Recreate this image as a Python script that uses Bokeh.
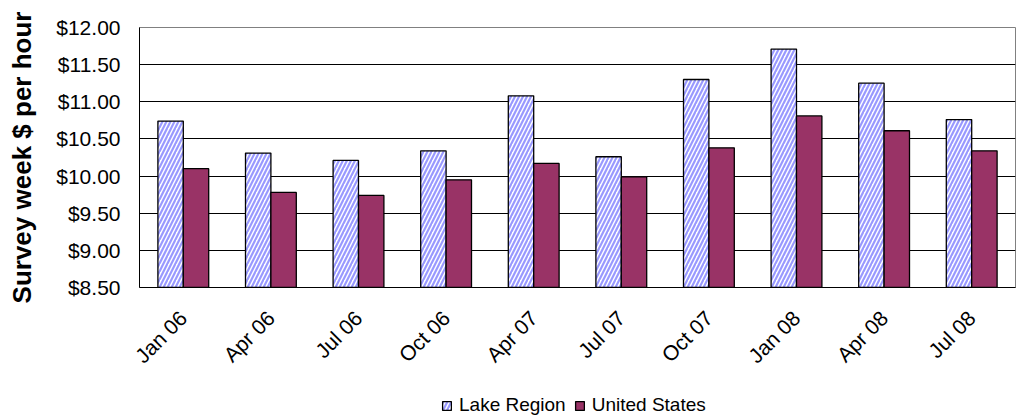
import math
from bokeh.plotting import figure
from bokeh.layouts import column
from bokeh.models import (FactorRange, Range1d, FixedTicker, NumeralTickFormatter,
                          Legend, LegendItem, ColumnDataSource)
from bokeh.transform import dodge
from bokeh.embed import file_html
from bokeh.resources import INLINE

periods = ["Jan 06", "Apr 06", "Jul 06", "Oct 06", "Apr 07",
           "Jul 07", "Oct 07", "Jan 08", "Apr 08", "Jul 08"]
lake_region = [10.74, 10.31, 10.21, 10.34, 11.08, 10.26, 11.30, 11.71, 11.25, 10.76]
united_states = [10.10, 9.78, 9.74, 9.95, 10.17, 9.99, 10.38, 10.81, 10.61, 10.34]
y_ticks = [8.5, 9.0, 9.5, 10.0, 10.5, 11.0, 11.5, 12.0]
series_names = ["Lake Region", "United States"]
y_label = "Survey week $ per hour"

FONT = "Liberation Sans"
y_min, y_max = y_ticks[0], y_ticks[-1]

LAKE_STYLE = dict(fill_color="white", hatch_pattern="/", hatch_color="#9999FF",
                  hatch_weight=2.2, hatch_scale=8, line_color="black", line_width=1.3)
US_STYLE = dict(fill_color="#993366", line_color="black", line_width=1.3)

src = ColumnDataSource(data=dict(period=periods, lake=lake_region, us=united_states,
                                 base=[y_min] * len(periods)))

W = 1016
p = figure(x_range=FactorRange(*periods, range_padding=0),
           y_range=Range1d(y_min, y_max),
           width=W, height=394,
           min_border_left=139, min_border_right=1,
           min_border_top=27, min_border_bottom=107,
           output_backend="svg", toolbar_location=None)

bw = 0.29
r1 = p.vbar(x=dodge("period", -bw / 2, range=p.x_range), top="lake", bottom="base",
            width=bw, source=src, **LAKE_STYLE)
r2 = p.vbar(x=dodge("period", bw / 2, range=p.x_range), top="us", bottom="base",
            width=bw, source=src, **US_STYLE)

# frame & grid
p.outline_line_color = "#808080"
p.outline_line_width = 1
p.background_fill_color = "white"
p.border_fill_color = "white"
p.xgrid.grid_line_color = None
p.ygrid.ticker = FixedTicker(ticks=y_ticks[1:-1])
p.ygrid.grid_line_color = "black"
p.ygrid.grid_line_width = 1

# y axis
p.yaxis.ticker = FixedTicker(ticks=y_ticks)
p.yaxis.formatter = NumeralTickFormatter(format="$0.00")
p.yaxis.major_label_text_font = FONT
p.yaxis.major_label_text_font_size = "21px"
p.yaxis.major_label_text_color = "black"
p.yaxis.major_tick_out = 0
p.yaxis.major_tick_in = 0
p.yaxis.minor_tick_out = 0
p.yaxis.minor_tick_in = 0
p.yaxis.major_label_standoff = 19
p.yaxis.axis_line_color = "black"
p.yaxis.axis_label = y_label
p.yaxis.axis_label_text_font = FONT
p.yaxis.axis_label_text_font_style = "bold"
p.yaxis.axis_label_text_font_size = "26px"
p.yaxis.axis_label_text_color = "black"
p.yaxis.axis_label_standoff = 16

# x axis
p.xaxis.major_label_orientation = math.pi / 4
p.xaxis.major_label_text_font = FONT
p.xaxis.major_label_text_font_size = "21px"
p.xaxis.major_label_text_color = "black"
p.xaxis.major_tick_out = 0
p.xaxis.major_tick_in = 0
p.xaxis.minor_tick_out = 0
p.xaxis.major_label_standoff = 27
p.xaxis.axis_line_color = "black"

# legend strip underneath (separate small figure; its renderers are hidden
# and only provide the legend swatches)
lp = figure(width=W, height=22, x_range=p.x_range, y_range=Range1d(0, 1),
            min_border=0, x_axis_type=None, y_axis_type=None,
            output_backend="svg", toolbar_location=None)
lp.outline_line_color = None
lp.grid.visible = False
lp.background_fill_color = "white"
lp.border_fill_color = "white"
l1 = lp.vbar(x=dodge("period", -bw / 2, range=p.x_range), top="lake", bottom="base",
             width=bw, source=src, **LAKE_STYLE)
l2 = lp.vbar(x=dodge("period", bw / 2, range=p.x_range), top="us", bottom="base",
             width=bw, source=src, **US_STYLE)
l1.visible = False
l2.visible = False
legend = Legend(items=[LegendItem(label=series_names[0], renderers=[l1]),
                       LegendItem(label=series_names[1], renderers=[l2])],
                orientation="horizontal", location=(302, 0),
                glyph_width=11, glyph_height=11, label_standoff=7, spacing=8,
                padding=0, margin=0, border_line_color=None,
                background_fill_alpha=0, click_policy="none",
                inactive_fill_alpha=0,
                label_text_font=FONT, label_text_font_size="19px",
                label_text_color="black", label_height=22)
lp.add_layout(legend, "center")

layout = column(p, lp, spacing=0)
open("out.html", "w").write(file_html(layout, INLINE))
